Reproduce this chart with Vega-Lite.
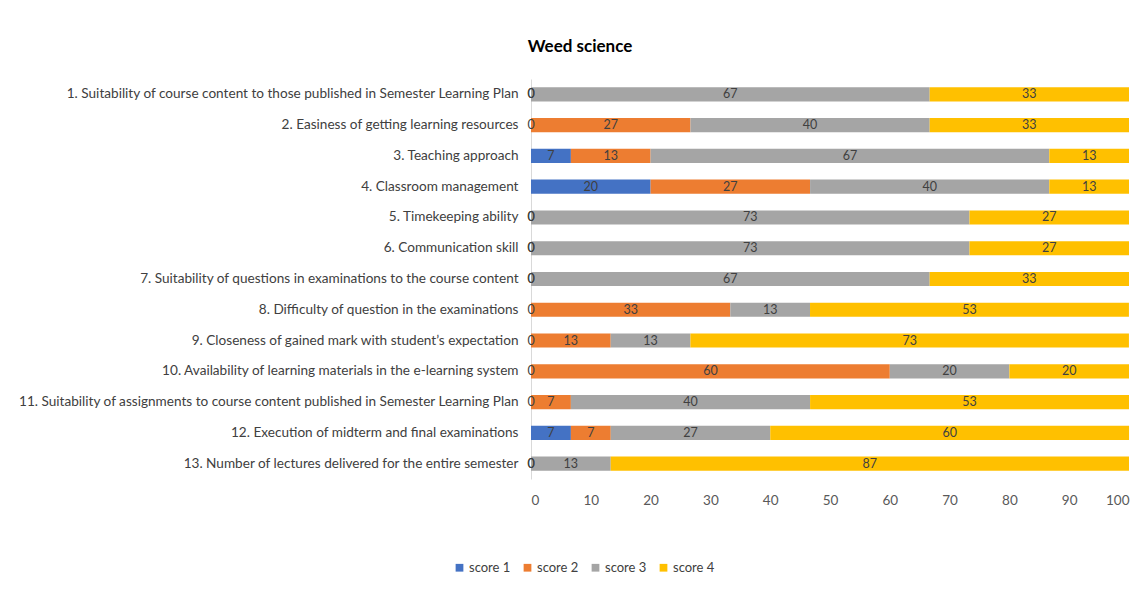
{
  "$schema": "https://vega.github.io/schema/vega-lite/v6.json",
  "autosize": "none",
  "width": 598,
  "height": 400,
  "padding": {"left": 531, "top": 79, "right": 14, "bottom": 129},
  "background": "white",
  "title": {"text": "Weed science", "anchor": "middle", "dx": -250, "offset": 23, "fontSize": 17, "fontWeight": "bold", "font": "Lato", "color": "#000000"},
  "config": {"view": {"stroke": null}, "font": "Lato"},
  "data": {"values": [
    {"item": "1. Suitability of course content to those published in Semester Learning Plan", "score": "score 1", "value": 0},
    {"item": "1. Suitability of course content to those published in Semester Learning Plan", "score": "score 2", "value": 0},
    {"item": "1. Suitability of course content to those published in Semester Learning Plan", "score": "score 3", "value": 66.67},
    {"item": "1. Suitability of course content to those published in Semester Learning Plan", "score": "score 4", "value": 33.33},
    {"item": "2. Easiness of getting learning resources", "score": "score 1", "value": 0},
    {"item": "2. Easiness of getting learning resources", "score": "score 2", "value": 26.67},
    {"item": "2. Easiness of getting learning resources", "score": "score 3", "value": 40},
    {"item": "2. Easiness of getting learning resources", "score": "score 4", "value": 33.33},
    {"item": "3. Teaching approach", "score": "score 1", "value": 6.67},
    {"item": "3. Teaching approach", "score": "score 2", "value": 13.33},
    {"item": "3. Teaching approach", "score": "score 3", "value": 66.67},
    {"item": "3. Teaching approach", "score": "score 4", "value": 13.33},
    {"item": "4. Classroom management", "score": "score 1", "value": 20},
    {"item": "4. Classroom management", "score": "score 2", "value": 26.67},
    {"item": "4. Classroom management", "score": "score 3", "value": 40},
    {"item": "4. Classroom management", "score": "score 4", "value": 13.33},
    {"item": "5. Timekeeping ability", "score": "score 1", "value": 0},
    {"item": "5. Timekeeping ability", "score": "score 2", "value": 0},
    {"item": "5. Timekeeping ability", "score": "score 3", "value": 73.33},
    {"item": "5. Timekeeping ability", "score": "score 4", "value": 26.67},
    {"item": "6. Communication skill", "score": "score 1", "value": 0},
    {"item": "6. Communication skill", "score": "score 2", "value": 0},
    {"item": "6. Communication skill", "score": "score 3", "value": 73.33},
    {"item": "6. Communication skill", "score": "score 4", "value": 26.67},
    {"item": "7. Suitability of questions in examinations to the course content", "score": "score 1", "value": 0},
    {"item": "7. Suitability of questions in examinations to the course content", "score": "score 2", "value": 0},
    {"item": "7. Suitability of questions in examinations to the course content", "score": "score 3", "value": 66.67},
    {"item": "7. Suitability of questions in examinations to the course content", "score": "score 4", "value": 33.33},
    {"item": "8. Difficulty of question in the examinations", "score": "score 1", "value": 0},
    {"item": "8. Difficulty of question in the examinations", "score": "score 2", "value": 33.33},
    {"item": "8. Difficulty of question in the examinations", "score": "score 3", "value": 13.33},
    {"item": "8. Difficulty of question in the examinations", "score": "score 4", "value": 53.33},
    {"item": "9. Closeness of gained mark with student’s expectation", "score": "score 1", "value": 0},
    {"item": "9. Closeness of gained mark with student’s expectation", "score": "score 2", "value": 13.33},
    {"item": "9. Closeness of gained mark with student’s expectation", "score": "score 3", "value": 13.33},
    {"item": "9. Closeness of gained mark with student’s expectation", "score": "score 4", "value": 73.33},
    {"item": "10. Availability of learning materials in the e-learning system", "score": "score 1", "value": 0},
    {"item": "10. Availability of learning materials in the e-learning system", "score": "score 2", "value": 60},
    {"item": "10. Availability of learning materials in the e-learning system", "score": "score 3", "value": 20},
    {"item": "10. Availability of learning materials in the e-learning system", "score": "score 4", "value": 20},
    {"item": "11. Suitability of assignments to course content published in Semester Learning Plan", "score": "score 1", "value": 0},
    {"item": "11. Suitability of assignments to course content published in Semester Learning Plan", "score": "score 2", "value": 6.67},
    {"item": "11. Suitability of assignments to course content published in Semester Learning Plan", "score": "score 3", "value": 40},
    {"item": "11. Suitability of assignments to course content published in Semester Learning Plan", "score": "score 4", "value": 53.33},
    {"item": "12. Execution of midterm and final examinations", "score": "score 1", "value": 6.67},
    {"item": "12. Execution of midterm and final examinations", "score": "score 2", "value": 6.67},
    {"item": "12. Execution of midterm and final examinations", "score": "score 3", "value": 26.67},
    {"item": "12. Execution of midterm and final examinations", "score": "score 4", "value": 60},
    {"item": "13. Number of lectures delivered for the entire semester", "score": "score 1", "value": 0},
    {"item": "13. Number of lectures delivered for the entire semester", "score": "score 2", "value": 0},
    {"item": "13. Number of lectures delivered for the entire semester", "score": "score 3", "value": 13.33},
    {"item": "13. Number of lectures delivered for the entire semester", "score": "score 4", "value": 86.67}
  ]},
  "transform": [
    {"stack": "value", "groupby": ["item"], "sort": [{"field": "score", "order": "ascending"}], "as": ["v0", "v1"]}
  ],
  "encoding": {
    "y": {"field": "item", "type": "nominal", "sort": null,
      "scale": {"paddingInner": 0.54, "paddingOuter": 0.27},
      "axis": {"title": null, "ticks": false, "domain": true, "domainColor": "#D9D9D9", "labelPadding": 13, "labelLimit": 600, "labelFontSize": 13.6, "labelColor": "#404040"}}
  },
  "layer": [
    {
      "mark": {"type": "bar"},
      "encoding": {
        "x": {"field": "v0", "type": "quantitative", "scale": {"domain": [0, 100], "nice": false},
          "axis": {"title": null, "values": [0,10,20,30,40,50,60,70,80,90,100], "grid": false, "domain": false, "ticks": false, "labelPadding": 14, "labelFontSize": 13.5, "labelColor": "#595959"}},
        "x2": {"field": "v1"},
        "color": {"field": "score", "type": "nominal",
          "scale": {"domain": ["score 1", "score 2", "score 3", "score 4"], "range": ["#4472C4", "#ED7D31", "#A5A5A5", "#FFC000"]},
          "legend": {"title": null, "orient": "none", "direction": "horizontal", "legendX": -78, "legendY": 482, "symbolType": "square", "symbolSize": 60, "labelFontSize": 13, "labelColor": "#404040", "columnPadding": 10, "symbolStrokeWidth": 0, "labelOffset": 3}}
      }
    },
    {
      "mark": {"type": "text", "fontSize": 12.5, "color": "#404040", "align": "center", "baseline": "middle", "dx": {"expr": "scale('x', datum.value) / 2"}},
      "encoding": {
        "x": {"field": "v0", "type": "quantitative"},
        "text": {"field": "value", "type": "quantitative", "format": ".0f"}
      }
    }
  ]
}
